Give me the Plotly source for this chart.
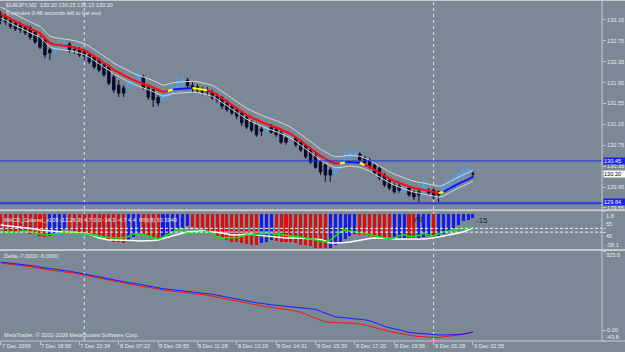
import plotly.graph_objects as go

# ---------------- data ----------------
bars = list(range(97))

time_label_bars = [0, 8, 16, 24, 32, 40, 48, 56, 64, 72, 80, 88, 96]
time_labels = ["7 Dec 2009", "7 Dec 18:50", "7 Dec 22:34", "8 Dec 07:22", "8 Dec 09:55",
               "8 Dec 11:28", "8 Dec 13:19", "8 Dec 14:31", "8 Dec 15:30", "8 Dec 17:20",
               "8 Dec 19:56", "9 Dec 01:28", "9 Dec 02:55"]
day_separator_bars = [17, 88]

price_ticks = [133.15, 132.75, 132.35, 131.95, 131.55, 131.15, 130.75, 130.35, 129.95, 129.55]
level_lines = [130.45, 129.64]
bid_price = 130.20

open_ = [133.27, 133.21, 133.15, 133.09, 133.05, 133.02, 133.00, 132.92, 132.82, 132.77,
         132.58, 132.54, 132.61, 132.61, 132.69, 132.59, 132.58, 132.54, 132.48, 132.44,
         132.38, 132.29, 132.25, 132.06, 131.90, 131.85, 131.85, 131.89, 131.96, 132.06,
         131.85, 131.81, 131.67, 131.62, 131.67, 131.75, 131.85, 131.92, 132.00, 131.90,
         131.87, 131.83, 131.81, 131.77, 131.69, 131.66, 131.56, 131.50, 131.43, 131.37,
         131.29, 131.20, 131.14, 131.06, 131.02, 131.10, 131.06, 130.99, 130.89, 130.89,
         130.89, 130.81, 130.74, 130.66, 130.56, 130.43, 130.37, 130.28, 130.22, 130.31,
         130.45, 130.53, 130.54, 130.58, 130.51, 130.47, 130.37, 130.31, 130.18, 130.08,
         129.99, 129.97, 129.86, 129.93, 129.86, 129.86, 129.87, 129.87, 129.89, 129.86,
         129.84, 129.95, 130.01, 130.10, 130.16, 130.22, 130.20]
close = [133.15, 133.11, 133.02, 132.98, 132.96, 132.90, 132.82, 132.73, 132.63, 132.48,
         132.52, 132.61, 132.65, 132.71, 132.56, 132.58, 132.48, 132.46, 132.35, 132.25,
         132.19, 132.10, 131.94, 131.81, 131.75, 131.75, 131.94, 132.00, 132.08, 131.85,
         131.67, 131.62, 131.56, 131.71, 131.77, 131.87, 131.96, 132.00, 131.89, 131.85,
         131.81, 131.77, 131.77, 131.66, 131.62, 131.50, 131.43, 131.37, 131.31, 131.18,
         131.10, 131.04, 130.95, 131.02, 131.10, 131.00, 130.95, 130.81, 130.81, 130.91,
         130.76, 130.66, 130.53, 130.43, 130.33, 130.24, 130.18, 130.18, 130.31, 130.43,
         130.53, 130.60, 130.60, 130.47, 130.41, 130.33, 130.22, 130.12, 129.99, 129.93,
         129.86, 129.89, 129.93, 129.80, 129.76, 129.80, 129.99, 129.84, 129.76, 129.80,
         129.97, 130.05, 130.12, 130.20, 130.26, 130.31, 130.20]
high = [133.32, 133.27, 133.19, 133.13, 133.11, 133.05, 133.04, 132.96, 132.86, 132.81,
        132.63, 132.65, 132.71, 132.77, 132.73, 132.65, 132.63, 132.59, 132.52, 132.48,
        132.42, 132.33, 132.29, 132.12, 132.00, 131.90, 131.96, 132.02, 132.15, 132.10,
        131.90, 131.87, 131.71, 131.75, 131.81, 131.92, 132.04, 132.08, 132.04, 131.96,
        131.92, 131.87, 131.87, 131.81, 131.75, 131.69, 131.62, 131.54, 131.48, 131.41,
        131.33, 131.23, 131.18, 131.12, 131.14, 131.16, 131.10, 131.04, 130.93, 130.95,
        130.93, 130.85, 130.77, 130.70, 130.60, 130.47, 130.41, 130.33, 130.35, 130.51,
        130.62, 130.66, 130.66, 130.62, 130.54, 130.51, 130.41, 130.35, 130.22, 130.12,
        130.03, 130.01, 129.97, 129.97, 129.89, 129.89, 130.14, 129.93, 129.93, 129.89,
        130.03, 130.08, 130.18, 130.24, 130.30, 130.35, 130.25]
low = [133.07, 133.05, 132.98, 132.94, 132.90, 132.86, 132.77, 132.69, 132.59, 132.42,
       132.38, 132.50, 132.58, 132.59, 132.52, 132.50, 132.44, 132.38, 132.31, 132.21,
       132.15, 132.06, 131.90, 131.75, 131.67, 131.67, 131.81, 131.85, 131.92, 131.81,
       131.62, 131.48, 131.50, 131.60, 131.64, 131.71, 131.81, 131.85, 131.83, 131.77,
       131.75, 131.71, 131.69, 131.62, 131.56, 131.44, 131.39, 131.33, 131.25, 131.12,
       131.06, 131.00, 130.91, 130.93, 131.00, 130.97, 130.91, 130.77, 130.76, 130.85,
       130.72, 130.62, 130.49, 130.39, 130.30, 130.18, 130.05, 130.05, 130.16, 130.28,
       130.39, 130.47, 130.51, 130.43, 130.37, 130.30, 130.18, 130.08, 129.95, 129.89,
       129.82, 129.84, 129.82, 129.76, 129.70, 129.64, 129.84, 129.80, 129.72, 129.66,
       129.80, 129.91, 129.97, 130.05, 130.10, 130.18, 130.13]

ma = [133.265, 133.227, 133.169, 133.121, 133.073, 133.025, 132.987, 132.939, 132.901, 132.805,
      132.709, 132.681, 132.671, 132.652, 132.642, 132.623, 132.594, 132.566, 132.518, 132.460,
      132.393, 132.326, 132.269, 132.192, 132.144, 132.096, 132.039, 132.000, 131.962, 131.933,
      131.895, 131.857, 131.809, 131.771, 131.790, 131.818, 131.828, 131.838, 131.847, 131.847,
      131.838, 131.818, 131.799, 131.771, 131.713, 131.656, 131.589, 131.522, 131.455, 131.397,
      131.330, 131.282, 131.234, 131.196, 131.158, 131.129, 131.091, 131.052, 131.014, 130.966,
      130.899, 130.832, 130.755, 130.688, 130.621, 130.545, 130.487, 130.439, 130.401, 130.401,
      130.420, 130.430, 130.420, 130.410, 130.372, 130.334, 130.276, 130.219, 130.161, 130.114,
      130.066, 130.027, 129.989, 129.960, 129.932, 129.912, 129.893, 129.874, 129.855, 129.836,
      129.855, 129.912, 129.960, 130.009, 130.047, 130.095, 130.143]
# colour state of each MA segment ending at that bar: R=down, B=up, Y=turn
ma_state = ("RRRRRRRRRRRRRRRRRRRRRRRRRRRRRRRRRRR" "Y" "BBBB" "YYY"
            "RRRRRRRRRRRRRRRRRRRRRRRRRRR" "Y" "BBB" "Y" "RRRRRRRRRRRRRRR" "Y" "BBBBBB")
env_upper_dev = 0.13
env_lower_dev = 0.08

macd_hist = [-16.8, -17.9, -18.2, -19.0, -19.4, -20.0, -21.1, -22.1, -23.2, -24.3,
             -23.2, -21.1, -19.0, -16.8, -17.3, -17.9, -19.0, -20.0, -21.1, -22.1,
             -24.3, -25.3, -27.5, -29.6, -30.6, -30.9, -28.5, -25.3, -22.1, -22.5,
             -23.2, -25.3, -26.4, -25.3, -23.2, -20.0, -16.8, -14.7, -13.6, -13.9,
             -14.7, -16.8, -19.0, -21.1, -23.2, -25.3, -27.5, -29.6, -30.6, -31.7,
             -32.5, -32.8, -33.0, -31.7, -29.6, -28.5, -28.8, -29.6, -29.9, -30.6,
             -31.7, -32.8, -33.8, -34.9, -36.0, -36.5, -37.0, -36.0, -33.8, -30.6,
             -26.4, -23.2, -22.1, -22.3, -22.7, -23.2, -24.3, -25.3, -26.4, -27.5,
             -26.9, -26.4, -25.9, -26.4, -27.5, -26.9, -24.8, -24.2, -25.3, -23.2,
             -21.1, -17.9, -14.7, -11.5, -8.3, -6.2, -4.7]
macd_signal = [-12.56, -13.09, -13.63, -14.16, -14.69, -15.76, -16.29, -16.82, -17.88, -18.42,
               -18.95, -19.48, -20.01, -20.1, -20.54, -20.6, -21.07, -21.1, -22.14, -24.27,
               -26.40, -27.46, -28.52, -28.6, -28.6, -28.5, -29.06, -29.1, -29.59, -29.6,
               -29.6, -29.06, -28.52, -26.93, -25.33, -23.74, -22.14, -21.07, -20.01, -19.48,
               -18.95, -18.95, -19.48, -20.01, -20.1, -21.07, -22.14, -23.20, -23.2, -22.67,
               -22.14, -22.1, -23.20, -23.74, -24.27, -25.33, -25.4, -25.87, -26.40, -26.4,
               -26.4, -26.93, -26.9, -27.46, -27.5, -28.00, -29.59, -31.72, -31.7, -31.7,
               -31.18, -30.65, -29.59, -28.52, -27.46, -26.93, -26.40, -26.4, -26.4, -26.93,
               -27.46, -27.5, -27.5, -27.5, -27.5, -27.5, -27.46, -26.93, -26.40, -25.33,
               -24.27, -23.20, -22.14, -21.07, -20.01, -17.88, -15.76]
rsi = [45.3, 44.0, 42.7, 45.3, 46.7, 48.0, 45.3, 42.7, 40.0, 37.3,
       38.7, 41.3, 44.0, 45.3, 42.7, 42.7, 42.7, 41.3, 38.7, 36.0,
       34.7, 32.0, 30.7, 29.3, 29.3, 30.7, 33.3, 40.0, 41.3, 38.7,
       34.7, 30.7, 26.7, 32.0, 38.7, 45.3, 49.3, 49.3, 42.7, 42.7,
       44.0, 45.3, 46.7, 42.7, 32.0, 29.3, 29.3, 29.3, 30.7, 33.3,
       37.3, 37.3, 38.7, 40.0, 42.7, 41.3, 40.0, 37.3, 36.0, 34.7,
       33.3, 32.0, 29.3, 26.7, 24.0, 21.3, 18.7, 24.0, 34.7, 45.3,
       50.7, 48.0, 44.0, 42.7, 41.3, 38.7, 34.7, 32.0, 29.3, 26.7,
       30.0, 34.7, 38.7, 33.3, 33.3, 36.0, 42.7, 37.3, 34.7, 40.0,
       45.3, 48.0, 50.7, 53.3, 57.3, 58.7, 53.6]
rsi_levels = [55, 45]

delta_blue = [280.4, 278.3, 276.2, 274.2, 272.1, 268.0, 265.9, 263.8, 259.7, 255.6,
              253.5, 251.5, 247.3, 245.3, 243.2, 239.1, 234.9, 232.9, 228.8, 224.6,
              220.5, 216.4, 212.2, 208.1, 204.0, 199.9, 195.7, 193.7, 189.5, 187.5,
              183.4, 179.2, 175.1, 171.0, 168.9, 166.9, 164.8, 162.7, 160.7, 158.6,
              156.5, 154.5, 152.4, 148.3, 144.2, 140.0, 135.9, 131.8, 127.6, 123.5,
              119.4, 115.2, 113.2, 111.1, 107.0, 104.9, 102.9, 100.8, 98.7, 96.7,
              94.6, 92.6, 90.5, 88.4, 86.4, 78.1, 69.9, 61.6, 55.5, 53.4,
              51.3, 49.3, 49.3, 47.2, 43.1, 39.0, 32.8, 24.6, 16.3, 10.2,
              6.0, 1.9, -4.4, -8.5, -10.6, -12.7, -14.7, -16.8, -16.8, -18.9,
              -18.9, -18.9, -18.9, -16.8, -14.7, -10.6, -7.0]
delta_red = [276.2, 274.2, 272.1, 270.0, 268.0, 263.8, 261.8, 257.6, 255.6, 251.5,
             247.3, 245.3, 243.2, 239.1, 237.0, 234.9, 230.8, 226.7, 222.6, 218.4,
             214.3, 210.2, 206.0, 201.9, 197.8, 193.7, 189.5, 185.4, 183.4, 179.2,
             177.2, 173.0, 168.9, 164.8, 162.7, 160.7, 158.6, 156.5, 154.5, 152.4,
             150.4, 148.3, 144.2, 140.0, 135.9, 131.8, 127.6, 123.5, 119.4, 117.3,
             113.2, 109.1, 104.9, 100.8, 96.7, 94.6, 90.5, 88.4, 86.4, 82.3,
             78.1, 74.0, 65.8, 57.5, 49.3, 41.0, 34.9, 32.8, 30.7, 30.7,
             30.7, 30.7, 28.7, 26.6, 22.5, 18.4, 12.2, 6.0, -0.5, -4.4,
             -8.5, -12.7, -16.8, -20.9, -23.0, -25.0, -27.1, -29.2, -29.2, -29.2,
             -27.1, -25.0, -23.0, -20.9, -16.8, -12.7, -8.0]

# ---------------- geometry / style ----------------
W, H = 625, 352
M_R, M_B = 23, 11
PH = H - M_B          # plot height in px (341)
PW = W - M_R          # plot width in px (602)
BAR_PX = 4.92
X0_PX = 0.64


def py(px):  # pixel row -> paper y
    return (PH - px) / PH


BG = "#7b8896"
TXT = "#eaeaea"
AX = "#c8c8c8"
FONT = "Liberation Sans"
FS = 5.6

xmin = -X0_PX / BAR_PX
xmax = xmin + PW / BAR_PX

fig = go.Figure()

# envelopes
fig.add_trace(go.Scatter(x=bars, y=[m + env_upper_dev for m in ma], mode="lines",
                         line=dict(color="#d6d6d6", width=1), yaxis="y", hoverinfo="skip"))
fig.add_trace(go.Scatter(x=bars, y=[m - env_lower_dev for m in ma], mode="lines",
                         line=dict(color="#d6d6d6", width=1), yaxis="y", hoverinfo="skip"))

# candles
fig.add_trace(go.Candlestick(
    x=bars, open=open_, high=high, low=low, close=close, yaxis="y",
    increasing=dict(line=dict(color="#45a8ff", width=1), fillcolor="rgba(0,0,0,0)"),
    decreasing=dict(line=dict(color="#0b0b2c", width=1), fillcolor="#0b0b2c"),
    whiskerwidth=0, hoverinfo="skip"))

# coloured MA
state_colors = {"R": "#ff0a0a", "B": "#1414ff", "Y": "#ffff00"}
i = 1
while i < len(bars):
    j = i
    while j + 1 < len(bars) and ma_state[j + 1] == ma_state[i]:
        j += 1
    fig.add_trace(go.Scatter(x=bars[i - 1:j + 1], y=ma[i - 1:j + 1], mode="lines",
                             line=dict(color=state_colors[ma_state[i]], width=2),
                             yaxis="y", hoverinfo="skip"))
    i = j + 1

# MACD histogram (blue rising, red falling)
hist_colors = ["#e00c0c"] + ["#1818f0" if macd_hist[k] > macd_hist[k - 1] else "#e00c0c"
                             for k in range(1, len(macd_hist))]
fig.add_trace(go.Bar(x=bars, y=macd_hist, marker=dict(color=hist_colors, line=dict(width=0)),
                     width=0.62, yaxis="y2", hoverinfo="skip"))
fig.add_trace(go.Scatter(x=bars, y=macd_signal, mode="lines", line=dict(color="#ffffff", width=1.5),
                         yaxis="y2", hoverinfo="skip"))
fig.add_trace(go.Scatter(x=bars, y=rsi, mode="lines", line=dict(color="#00ee00", width=1.5),
                         yaxis="y3", hoverinfo="skip"))

# Delta
fig.add_trace(go.Scatter(x=bars, y=delta_red, mode="lines", line=dict(color="#ff1010", width=1),
                         yaxis="y4", hoverinfo="skip"))
fig.add_trace(go.Scatter(x=bars, y=delta_blue, mode="lines", line=dict(color="#1a1aff", width=1),
                         yaxis="y4", hoverinfo="skip"))

shapes = []
# day separators
for b in day_separator_bars:
    shapes.append(dict(type="line", xref="x", yref="paper", x0=b, x1=b, y0=0, y1=1,
                       line=dict(color="#e6e6e6", width=1, dash="3px,3px"), layer="below"))
# horizontal levels in main window
shapes.append(dict(type="line", xref="paper", yref="y", x0=0, x1=1, y0=level_lines[0], y1=level_lines[0],
                   line=dict(color="#2030e8", width=1)))
shapes.append(dict(type="line", xref="paper", yref="y", x0=0, x1=1, y0=level_lines[1], y1=level_lines[1],
                   line=dict(color="#2a3ae0", width=2)))
# RSI levels
for lv in rsi_levels:
    shapes.append(dict(type="line", xref="paper", yref="y3", x0=0, x1=1, y0=lv, y1=lv,
                       line=dict(color="#f0f0f0", width=1, dash="3px,2px")))
# panel separators and borders
for pyv, wd in [(py(210.2), 2), (py(250), 2), (py(341), 1), (py(0.5), 1)]:
    shapes.append(dict(type="line", xref="paper", yref="paper", x0=0, x1=W / PW, y0=pyv, y1=pyv,
                       line=dict(color=AX, width=wd)))
shapes.append(dict(type="line", xref="paper", yref="paper", x0=1, x1=1, y0=0, y1=1,
                   line=dict(color=AX, width=1)))

ann = []
small = dict(family=FONT, size=FS, color=TXT)
for b, t in zip(time_label_bars, time_labels):
    ann.append(dict(x=b, xref="x", y=0, yref="paper", yanchor="top", xanchor="left", text=t,
                    showarrow=False, font=small, xshift=0, yshift=-1, borderpad=0))
ann.append(dict(x=5 / PW, xref="paper", y=py(1), yref="paper", xanchor="left", yanchor="top",
                text="EURJPY,M2  130.20 130.25 130.13 130.20", showarrow=False, font=small, borderpad=0))
ann.append(dict(x=5 / PW, xref="paper", y=py(9), yref="paper", xanchor="left", yanchor="top",
                text="6 minutes 0:48 seconds left to bar end", showarrow=False, font=small, borderpad=0))
ann.append(dict(x=3 / PW, xref="paper", y=py(216), yref="paper", xanchor="left", yanchor="top",
                text="MACD_Colored_v105 (12,26,9) 4.7 0.0 -14.3 -4.7 4.4  RSI(8) 53.5940",
                showarrow=False, font=small, borderpad=0))
ann.append(dict(x=3 / PW, xref="paper", y=py(252), yref="paper", xanchor="left", yanchor="top",
                text="Delta -7.0000 -8.0000", showarrow=False, font=small, borderpad=0))
ann.append(dict(x=3 / PW, xref="paper", y=py(331), yref="paper", xanchor="left", yanchor="top",
                text="MetaTrader, © 2001-2009 MetaQuotes Software Corp.", showarrow=False,
                font=small, borderpad=0))
ann.append(dict(x=83.2, xref="x", y=-6.7, yref="y2", xanchor="left", yanchor="middle", text="VB",
                showarrow=False, font=dict(family=FONT, size=8, color="#2a2a2a")))
ann.append(dict(x=96.2, xref="x", y=-8.3, yref="y2", xanchor="left", yanchor="middle", text="-15",
                showarrow=False, font=dict(family=FONT, size=8, color="#2a2a2a")))
# price boxes
for val, bg, fg, ys in [(level_lines[0], "#1a22f0", "#ffffff", 0), (bid_price, "#ffffff", "#000000", 0),
                        (level_lines[1], "#1a22f0", "#ffffff", 1)]:
    ann.append(dict(x=1, xref="paper", y=val, yref="y", xanchor="left", yanchor="middle",
                    text=f"{val:.2f}", showarrow=False, bgcolor=bg, width=22, height=6, align="left",
                    font=dict(family=FONT, size=FS, color=fg), borderpad=0, xshift=1, yshift=ys))
# window extreme labels and RSI level labels
for txt, yv, yr, anc in [("1.8", 1.8, "y2", "top"), ("-38.1", -38.1, "y2", "bottom"),
                         ("325.8", 325.8, "y4", "top"), ("-43.8", -43.8, "y4", "bottom"),
                         (str(rsi_levels[0]), rsi_levels[0], "y3", "bottom"),
                         (str(rsi_levels[1]), rsi_levels[1], "y3", "top")]:
    ann.append(dict(x=1, xref="paper", y=yv, yref=yr, xanchor="left", yanchor=anc, text=txt,
                    showarrow=False, font=small, borderpad=0, xshift=3))

yax_common = dict(side="right", anchor="x", showgrid=False, zeroline=False, ticks="outside",
                  ticklen=3, tickcolor=AX, tickfont=small, showline=False, fixedrange=True)

fig.update_layout(
    width=W, height=H, margin=dict(l=0, r=M_R, t=0, b=M_B),
    paper_bgcolor=BG, plot_bgcolor=BG, showlegend=False, bargap=0,
    xaxis=dict(range=[xmin, xmax], showgrid=False, zeroline=False, anchor="y4",
               tickvals=time_label_bars, ticks="outside", ticklen=3, tickcolor=AX,
               showticklabels=False, rangeslider=dict(visible=False), fixedrange=True),
    yaxis=dict(domain=[py(209), 1], range=[129.529, 133.533], tickvals=price_ticks,
               ticktext=[f"{v:.2f}" for v in price_ticks], **yax_common),
    yaxis2=dict(domain=[py(249), py(211.5)], range=[-38.1, 1.8], tickvals=[1.8, -38.1],
                showticklabels=False, **yax_common),
    yaxis3=dict(domain=[py(249), py(211.5)], range=[0, 100], overlaying="y2", tickvals=rsi_levels,
                showticklabels=False, **yax_common),
    yaxis4=dict(domain=[0, py(251)], range=[-43.8, 325.8], tickvals=[325.8, 0, -43.8],
                ticktext=["", "0.00", ""], **yax_common),
    shapes=shapes, annotations=ann,
)

fig.write_html("out.html")
